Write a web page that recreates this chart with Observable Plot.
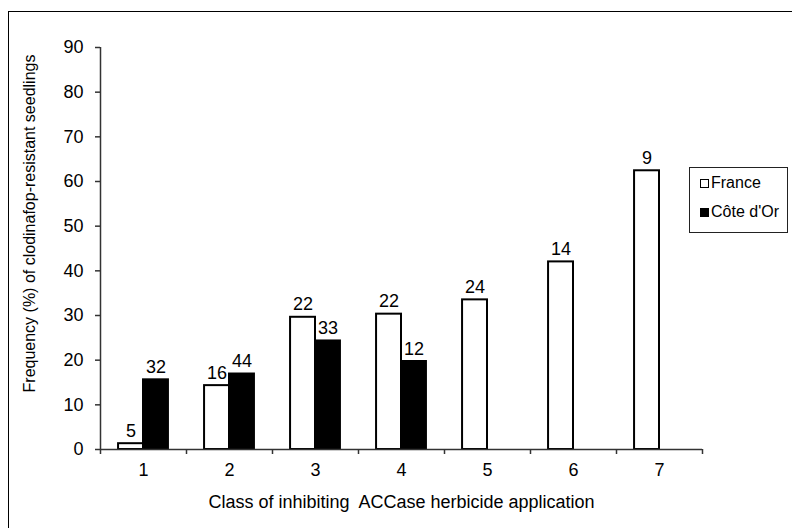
<!DOCTYPE html>
<html>
<head>
<meta charset="utf-8">
<script src="https://cdn.jsdelivr.net/npm/d3@7"></script>
<script src="https://cdn.jsdelivr.net/npm/@observablehq/plot@0.6"></script>
<style>
  html, body { margin: 0; padding: 0; background: #fff; }
  body { width: 792px; height: 528px; position: relative; overflow: hidden; font-family: "Liberation Sans", Arial, sans-serif; }
  #chart { position: absolute; left: 0; top: 0; }
  #border { position: absolute; left: 8px; top: 11px; width: 900px; height: 900px; border: 1px solid #000; pointer-events: none; }
  #legend { position: absolute; left: 689px; top: 167px; width: 99px; height: 66px; border: 1px solid #222; box-sizing: border-box; background: #fff; font-size: 16px; color: #000; }
  .item { position: absolute; left: 10px; display: flex; align-items: center; }
  .sw { width: 9px; height: 9px; border: 1.5px solid #000; margin-right: 2px; box-sizing: border-box; }
</style>
</head>
<body>
<div id="chart"></div>
<div id="border"></div>
<div id="legend"></div>
<script>
const classes = [1, 2, 3, 4, 5, 6, 7];
const seriesNames = ["France", "Côte d'Or"];
const franceValues = [1.3, 14.3, 29.6, 30.3, 33.5, 42.0, 62.4];
const franceN = [5, 16, 22, 22, 24, 14, 9];
const coteClasses = [1, 2, 3, 4];
const coteValues = [15.6, 16.9, 24.3, 19.7];
const coteN = [32, 44, 33, 12];
const yTicks = [0, 10, 20, 30, 40, 50, 60, 70, 80, 90];
const xTitle = "Class of inhibiting\u00a0 ACCase herbicide application";
const yTitle = "Frequency (%) of clodinafop-resistant seedlings";

const half = 0.29; // bar width in class units
const rows = [
  ...classes.map((c, i) => ({cls: c, series: seriesNames[0], value: franceValues[i], n: franceN[i]})),
  ...coteClasses.map((c, i) => ({cls: c, series: seriesNames[1], value: coteValues[i], n: coteN[i]}))
];
const x1 = d => d.series === seriesNames[0] ? d.cls - half : d.cls;
const x2 = d => d.series === seriesNames[0] ? d.cls : d.cls + half;
const xm = d => (x1(d) + x2(d)) / 2;

const boundaries = d3.range(classes[0] - 0.5, classes[classes.length - 1] + 1, 1);

const chart = Plot.plot({
  width: 792,
  height: 528,
  marginLeft: 100,
  marginRight: 90,
  marginTop: 47,
  marginBottom: 79,
  x: {domain: [classes[0] - 0.5, classes[classes.length - 1] + 0.5], axis: null},
  y: {domain: [0, 90], axis: null},
  color: {domain: seriesNames, range: ["#ffffff", "#000000"]},
  style: {fontFamily: "'Liberation Sans', Arial, sans-serif", fontSize: "18px", color: "#000", background: "transparent", overflow: "visible"},
  marks: [
    Plot.rectY(rows, {x1, x2, y1: 0, y2: "value", fill: "series", stroke: "#000", strokeWidth: 2}),
    Plot.text(rows, {x: xm, y: "value", text: "n", lineAnchor: "bottom", dy: -7, fontSize: 18, fill: "#000"}),
    Plot.ruleY([0], {stroke: "#333", strokeWidth: 1.5}),
    Plot.ruleX([classes[0] - 0.5], {y1: 0, y2: 90, stroke: "#333", strokeWidth: 1.5}),
    Plot.axisY({ticks: yTicks, tickSize: 5, tickPadding: 12, stroke: "#333", strokeWidth: 1.5, fontSize: 18, label: null}),
    Plot.axisX({ticks: boundaries, tickSize: 5, tickFormat: () => "", stroke: "#333", strokeWidth: 1.5, label: null}),
    Plot.axisX({ticks: classes, tickSize: 0, tickPadding: 14, tickFormat: d => String(d), fontSize: 18, label: null}),
    Plot.text([xTitle], {frameAnchor: "bottom", text: d => d, dy: 58, lineAnchor: "bottom", fontSize: 18, fill: "#000"}),
    Plot.text([yTitle], {frameAnchor: "left", text: d => d, rotate: -90, dx: -71, dy: -25, textAnchor: "middle", lineAnchor: "middle", fontSize: 16, fill: "#000"})
  ]
});
document.getElementById("chart").appendChild(chart);

const legend = document.getElementById("legend");
seriesNames.forEach((name, i) => {
  const item = document.createElement("div");
  item.className = "item";
  item.style.top = (i === 0 ? 6 : 35) + "px";
  const sw = document.createElement("span");
  sw.className = "sw";
  sw.style.background = i === 0 ? "#fff" : "#000";
  const label = document.createElement("span");
  label.textContent = name;
  item.appendChild(sw);
  item.appendChild(label);
  legend.appendChild(item);
});
</script>
</body>
</html>
